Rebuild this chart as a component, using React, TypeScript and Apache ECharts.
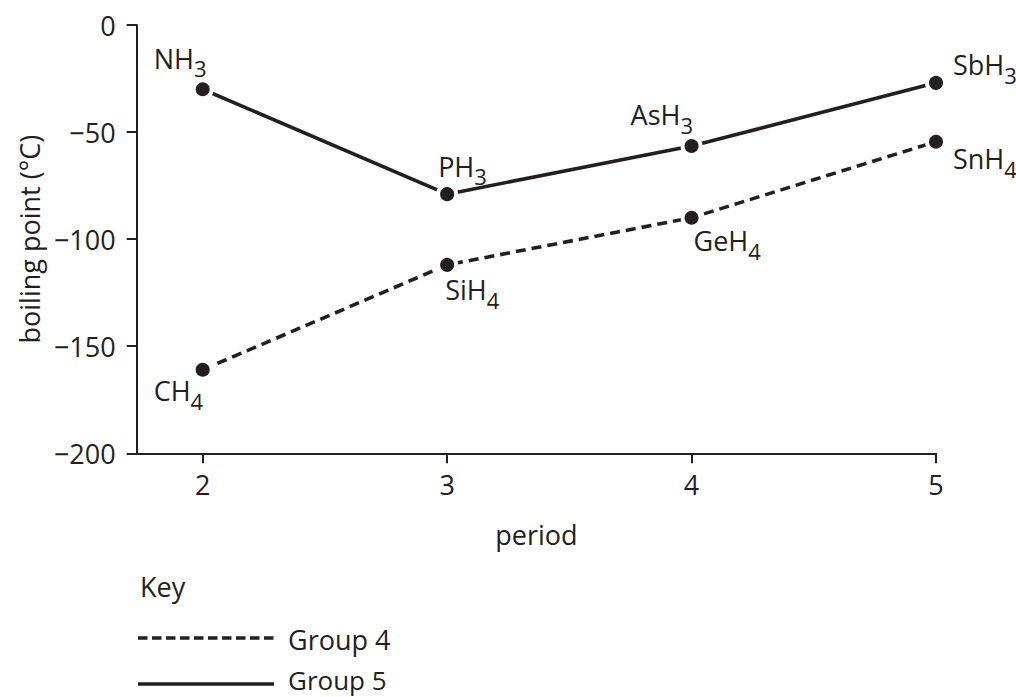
import React, { useEffect, useRef } from "react";
import * as echarts from "echarts";

const periods = [2, 3, 4, 5];
const group4Values = [-161, -112, -90, -54.5];
const group5Values = [-30, -79, -56.5, -27];
const group4Names = ["CH", "SiH", "GeH", "SnH"];
const group5Names = ["NH", "PH", "AsH", "SbH"];
const group4Sub = "4";
const group5Sub = "3";
const yTickValues = [0, -50, -100, -150, -200];
const xTickValues = [2, 3, 4, 5];

// label placement (left edge / glyph centre relative to point centre)
const group4Offsets = [[-49, 21], [-2, 25], [2, 23], [17, 17]];
const group5Offsets = [[-49, -31], [-9, -28], [-61, -31], [17, -18]];

const FONT = "'Open Sans', 'Noto Sans', sans-serif";
const INK = "#231f20";

export default function App() {
  const ref = useRef<HTMLDivElement>(null);
  useEffect(() => {
    if (!ref.current) return;
    const chart = echarts.init(ref.current, undefined, { renderer: "svg" });
    const rich = {
      m: { fontSize: 27, fontFamily: FONT, color: INK },
      s: { fontSize: 22, fontFamily: FONT, color: INK, padding: [20, 0, 0, 0] },
    };
    const mkData = (vals: number[], names: string[], sub: string, offs: number[][]) =>
      periods.map((p, i) => ({
        value: [p, vals[i]],
        label: {
          show: true,
          position: "inside",
          align: "left",
          verticalAlign: "middle",
          offset: offs[i],
          formatter: `{m|${names[i]}}{s|${sub}}`,
          rich,
        },
      }));
    const symbolStyle = { color: INK, borderColor: "#ffffff", borderWidth: 4 };
    chart.setOption({
      animation: false,
      textStyle: { fontFamily: FONT, color: INK },
      grid: { left: 136.7, right: 80, top: 25, bottom: 243.7, containLabel: false },
      xAxis: {
        type: "value",
        min: 1.73,
        max: 5,
        name: "period",
        nameLocation: "middle",
        nameGap: 68,
        nameTextStyle: { fontSize: 27, fontFamily: FONT, color: INK },
        axisLine: { onZero: false, lineStyle: { color: INK, width: 2 } },
        axisTick: { show: true, length: 10, customValues: xTickValues, lineStyle: { color: INK, width: 2 } },
        axisLabel: {
          customValues: xTickValues,
          margin: 18,
          fontSize: 27,
          fontFamily: FONT,
          color: INK,
        },
        splitLine: { show: false },
      },
      yAxis: {
        type: "value",
        min: -200,
        max: 0,
        interval: 50,
        name: "boiling point (°C)",
        nameLocation: "middle",
        nameGap: 93,
        nameTextStyle: { fontSize: 27, fontFamily: FONT, color: INK },
        axisLine: { show: true, onZero: false, lineStyle: { color: INK, width: 2 } },
        axisTick: { show: true, length: 10, customValues: yTickValues, lineStyle: { color: INK, width: 2 } },
        axisLabel: {
          margin: 21,
          fontSize: 27,
          fontFamily: FONT,
          color: INK,
          formatter: (v: number) => (v < 0 ? "\u2212" + Math.abs(v) : String(v)),
        },
        splitLine: { show: false },
      },
      series: [
        {
          name: "Group 4",
          type: "line",
          data: mkData(group4Values, group4Names, group4Sub, group4Offsets),
          symbol: "circle",
          symbolSize: 18,
          itemStyle: symbolStyle,
          lineStyle: { color: INK, width: 3.6, type: [10, 6] },
        },
        {
          name: "Group 5",
          type: "line",
          data: mkData(group5Values, group5Names, group5Sub, group5Offsets),
          symbol: "circle",
          symbolSize: 18,
          itemStyle: symbolStyle,
          lineStyle: { color: INK, width: 3.6, type: "solid" },
        },
      ],
      graphic: [
        {
          type: "text",
          left: 140,
          top: 573,
          style: { text: "Key", fontSize: 27, fontFamily: FONT, fill: INK },
        },
        {
          type: "line",
          shape: { x1: 138, y1: 638, x2: 274, y2: 638 },
          style: { stroke: INK, lineWidth: 3.6, lineDash: [9.5, 4.5] },
        },
        {
          type: "text",
          x: 288,
          y: 639,
          style: { text: "Group 4", fontSize: 27, lineHeight: 28, fontFamily: FONT, fill: INK, verticalAlign: "middle" },
        },
        {
          type: "line",
          shape: { x1: 138, y1: 684, x2: 274, y2: 684 },
          style: { stroke: INK, lineWidth: 3.6 },
        },
        {
          type: "text",
          x: 288,
          y: 680,
          style: { text: "Group 5", fontSize: 26, lineHeight: 26, fontFamily: FONT, fill: INK, verticalAlign: "middle" },
        },
      ],
    });
    return () => chart.dispose();
  }, []);
  return (
    <div
      ref={ref}
      style={{ position: "absolute", left: 0, top: 0, width: 1016, height: 697, background: "#fff" }}
    />
  );
}
